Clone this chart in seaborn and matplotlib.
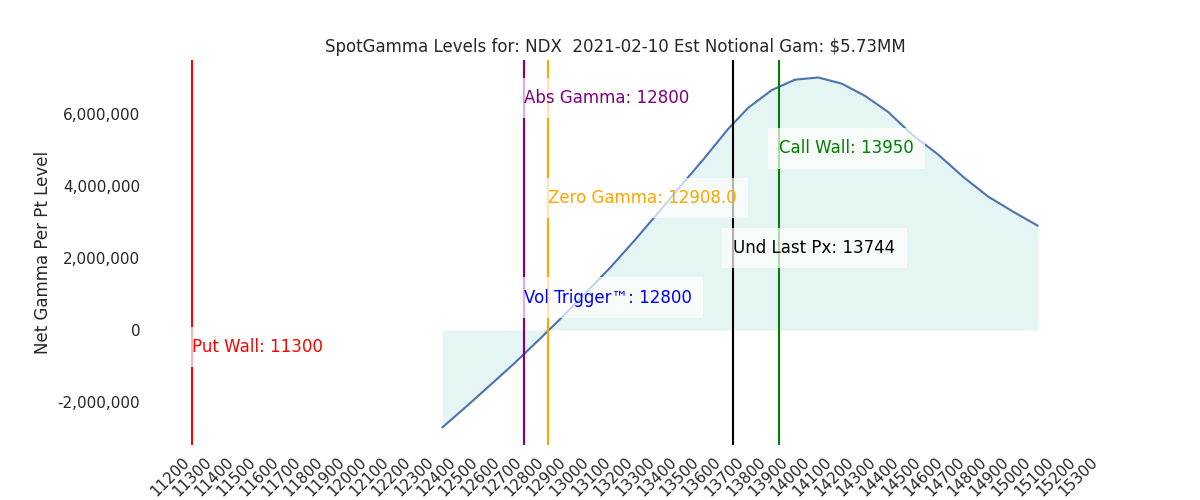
import matplotlib
matplotlib.use("Agg")
import matplotlib.pyplot as plt
import matplotlib.ticker as mticker
import seaborn as sns

# gamma curve
strikes = [12429, 12537, 12644, 12752, 12859, 12967, 13074, 13182, 13290,
           13397, 13505, 13613, 13720, 13811, 13917, 14022, 14127, 14233,
           14338, 14443, 14549, 14668, 14781, 14894, 15007, 15118]
net_gamma = [-2.71e6, -2.13e6, -1.54e6, -0.94e6, -0.31e6, 0.34e6, 1.02e6,
             1.70e6, 2.44e6, 3.21e6, 4.00e6, 4.78e6, 5.59e6, 6.18e6, 6.67e6,
             6.96e6, 7.02e6, 6.85e6, 6.51e6, 6.06e6, 5.44e6, 4.88e6, 4.26e6,
             3.71e6, 3.29e6, 2.90e6]

# key levels
level_names = ["Put Wall", "Vol Trigger\u2122", "Abs Gamma", "Zero Gamma",
               "Und Last Px", "Call Wall"]
level_values = [11300, 12800, 12800, 12908.0, 13744, 13950]
level_labels = ["11300", "12800", "12800", "12908.0", "13744", "13950"]
level_colors = ["red", "blue", "purple", "orange", "black", "green"]
label_heights = [-0.48e6, 0.90e6, 6.45e6, 3.67e6, 2.28e6, 5.05e6]

xtick_values = list(range(11200, 15400, 100))

title = "SpotGamma Levels for: NDX  2021-02-10 Est Notional Gam: $5.73MM"

sns.set_style("white")
fig, ax = plt.subplots(figsize=(12, 5), dpi=100)

ax.fill_between(strikes, 0, net_gamma, color="#e5f5f3", linewidth=0)
sns.lineplot(x=strikes, y=net_gamma, ax=ax, color="#4c72b0", linewidth=1.5)

for val, col in zip(level_values, level_colors):
    ax.axvline(val, color=col, linewidth=1.5)

for name, val, lab, col, h in zip(level_names, level_values, level_labels,
                                  level_colors, label_heights):
    ax.text(val, h, f"{name}: {lab}", color=col, fontsize=12, va="center",
            bbox=dict(facecolor="white", alpha=0.7, edgecolor="none", pad=8))

ax.set_xticks(xtick_values)
ax.set_xticklabels([str(t) for t in xtick_values], rotation=45, fontsize=11)
ax.yaxis.set_major_formatter(mticker.FuncFormatter(lambda v, p: f"{v:,.0f}"))
ax.tick_params(axis="y", labelsize=11)
ax.set_ylabel("Net Gamma Per Pt Level", fontsize=12)
ax.set_title(title, fontsize=12)
sns.despine(left=True, bottom=True)

plt.savefig("out.png")
